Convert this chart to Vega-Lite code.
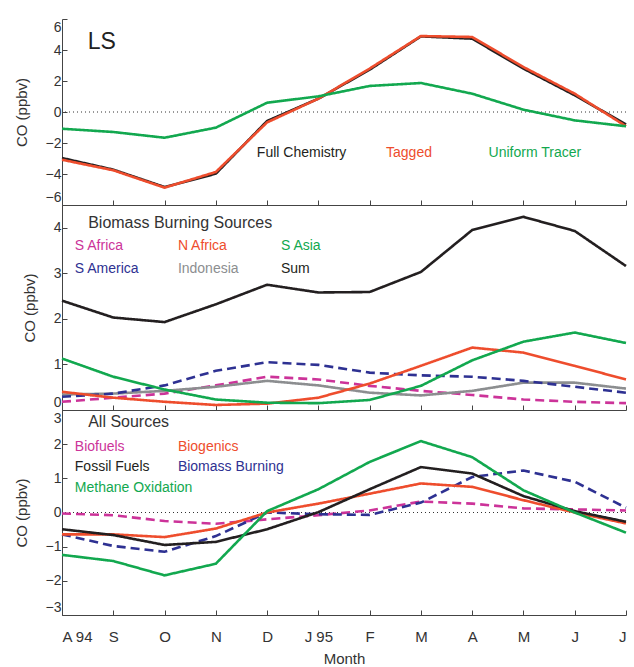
{
  "$schema": "https://vega.github.io/schema/vega-lite/v6.json",
  "padding": {"left": 14, "top": 18, "right": 0, "bottom": 0},
  "spacing": 0,
  "bounds": "flush",
  "config": {
    "font": "Liberation Sans",
    "view": {"stroke": null},
    "axis": {"grid": false, "domainColor": "#444", "tickColor": "#444", "tickSize": -5, "labelColor": "#333", "labelFontSize": 14, "titleFontSize": 15, "titleFontWeight": "normal", "titleColor": "#333", "labelPadding": 6, "titlePadding": 16}
  },
  "datasets": {
    "lines": [
      {"panel":"LS","series":"Full Chemistry","month":0,"co":-2.97},{"panel":"LS","series":"Full Chemistry","month":1,"co":-3.72},{"panel":"LS","series":"Full Chemistry","month":2,"co":-4.84},{"panel":"LS","series":"Full Chemistry","month":3,"co":-3.98},{"panel":"LS","series":"Full Chemistry","month":4,"co":-0.58},{"panel":"LS","series":"Full Chemistry","month":5,"co":0.86},{"panel":"LS","series":"Full Chemistry","month":6,"co":2.73},{"panel":"LS","series":"Full Chemistry","month":7,"co":4.88},{"panel":"LS","series":"Full Chemistry","month":8,"co":4.73},{"panel":"LS","series":"Full Chemistry","month":9,"co":2.80},{"panel":"LS","series":"Full Chemistry","month":10,"co":1.08},{"panel":"LS","series":"Full Chemistry","month":11,"co":-0.80},
      {"panel":"LS","series":"Tagged","month":0,"co":-3.08},{"panel":"LS","series":"Tagged","month":1,"co":-3.76},{"panel":"LS","series":"Tagged","month":2,"co":-4.88},{"panel":"LS","series":"Tagged","month":3,"co":-3.87},{"panel":"LS","series":"Tagged","month":4,"co":-0.67},{"panel":"LS","series":"Tagged","month":5,"co":0.86},{"panel":"LS","series":"Tagged","month":6,"co":2.80},{"panel":"LS","series":"Tagged","month":7,"co":4.90},{"panel":"LS","series":"Tagged","month":8,"co":4.84},{"panel":"LS","series":"Tagged","month":9,"co":2.90},{"panel":"LS","series":"Tagged","month":10,"co":1.18},{"panel":"LS","series":"Tagged","month":11,"co":-0.92},
      {"panel":"LS","series":"Uniform Tracer","month":0,"co":-1.08},{"panel":"LS","series":"Uniform Tracer","month":1,"co":-1.29},{"panel":"LS","series":"Uniform Tracer","month":2,"co":-1.66},{"panel":"LS","series":"Uniform Tracer","month":3,"co":-1.01},{"panel":"LS","series":"Uniform Tracer","month":4,"co":0.60},{"panel":"LS","series":"Uniform Tracer","month":5,"co":1.01},{"panel":"LS","series":"Uniform Tracer","month":6,"co":1.68},{"panel":"LS","series":"Uniform Tracer","month":7,"co":1.87},{"panel":"LS","series":"Uniform Tracer","month":8,"co":1.18},{"panel":"LS","series":"Uniform Tracer","month":9,"co":0.15},{"panel":"LS","series":"Uniform Tracer","month":10,"co":-0.54},{"panel":"LS","series":"Uniform Tracer","month":11,"co":-0.92},

      {"panel":"BB","series":"S Africa","month":0,"co":0.18},{"panel":"BB","series":"S Africa","month":1,"co":0.27},{"panel":"BB","series":"S Africa","month":2,"co":0.36},{"panel":"BB","series":"S Africa","month":3,"co":0.54},{"panel":"BB","series":"S Africa","month":4,"co":0.73},{"panel":"BB","series":"S Africa","month":5,"co":0.67},{"panel":"BB","series":"S Africa","month":6,"co":0.53},{"panel":"BB","series":"S Africa","month":7,"co":0.42},{"panel":"BB","series":"S Africa","month":8,"co":0.33},{"panel":"BB","series":"S Africa","month":9,"co":0.23},{"panel":"BB","series":"S Africa","month":10,"co":0.18},{"panel":"BB","series":"S Africa","month":11,"co":0.15},
      {"panel":"BB","series":"Indonesia","month":0,"co":0.34},{"panel":"BB","series":"Indonesia","month":1,"co":0.36},{"panel":"BB","series":"Indonesia","month":2,"co":0.42},{"panel":"BB","series":"Indonesia","month":3,"co":0.51},{"panel":"BB","series":"Indonesia","month":4,"co":0.64},{"panel":"BB","series":"Indonesia","month":5,"co":0.54},{"panel":"BB","series":"Indonesia","month":6,"co":0.38},{"panel":"BB","series":"Indonesia","month":7,"co":0.32},{"panel":"BB","series":"Indonesia","month":8,"co":0.42},{"panel":"BB","series":"Indonesia","month":9,"co":0.60},{"panel":"BB","series":"Indonesia","month":10,"co":0.60},{"panel":"BB","series":"Indonesia","month":11,"co":0.47},
      {"panel":"BB","series":"S America","month":0,"co":0.29},{"panel":"BB","series":"S America","month":1,"co":0.36},{"panel":"BB","series":"S America","month":2,"co":0.54},{"panel":"BB","series":"S America","month":3,"co":0.86},{"panel":"BB","series":"S America","month":4,"co":1.05},{"panel":"BB","series":"S America","month":5,"co":0.99},{"panel":"BB","series":"S America","month":6,"co":0.82},{"panel":"BB","series":"S America","month":7,"co":0.76},{"panel":"BB","series":"S America","month":8,"co":0.73},{"panel":"BB","series":"S America","month":9,"co":0.64},{"panel":"BB","series":"S America","month":10,"co":0.51},{"panel":"BB","series":"S America","month":11,"co":0.38},
      {"panel":"BB","series":"N Africa","month":0,"co":0.40},{"panel":"BB","series":"N Africa","month":1,"co":0.27},{"panel":"BB","series":"N Africa","month":2,"co":0.18},{"panel":"BB","series":"N Africa","month":3,"co":0.11},{"panel":"BB","series":"N Africa","month":4,"co":0.14},{"panel":"BB","series":"N Africa","month":5,"co":0.27},{"panel":"BB","series":"N Africa","month":6,"co":0.58},{"panel":"BB","series":"N Africa","month":7,"co":0.97},{"panel":"BB","series":"N Africa","month":8,"co":1.37},{"panel":"BB","series":"N Africa","month":9,"co":1.26},{"panel":"BB","series":"N Africa","month":10,"co":0.97},{"panel":"BB","series":"N Africa","month":11,"co":0.67},
      {"panel":"BB","series":"S Asia","month":0,"co":1.13},{"panel":"BB","series":"S Asia","month":1,"co":0.73},{"panel":"BB","series":"S Asia","month":2,"co":0.45},{"panel":"BB","series":"S Asia","month":3,"co":0.23},{"panel":"BB","series":"S Asia","month":4,"co":0.16},{"panel":"BB","series":"S Asia","month":5,"co":0.15},{"panel":"BB","series":"S Asia","month":6,"co":0.22},{"panel":"BB","series":"S Asia","month":7,"co":0.53},{"panel":"BB","series":"S Asia","month":8,"co":1.09},{"panel":"BB","series":"S Asia","month":9,"co":1.50},{"panel":"BB","series":"S Asia","month":10,"co":1.70},{"panel":"BB","series":"S Asia","month":11,"co":1.47},
      {"panel":"BB","series":"Sum","month":0,"co":2.40},{"panel":"BB","series":"Sum","month":1,"co":2.03},{"panel":"BB","series":"Sum","month":2,"co":1.93},{"panel":"BB","series":"Sum","month":3,"co":2.32},{"panel":"BB","series":"Sum","month":4,"co":2.75},{"panel":"BB","series":"Sum","month":5,"co":2.58},{"panel":"BB","series":"Sum","month":6,"co":2.59},{"panel":"BB","series":"Sum","month":7,"co":3.03},{"panel":"BB","series":"Sum","month":8,"co":3.95},{"panel":"BB","series":"Sum","month":9,"co":4.24},{"panel":"BB","series":"Sum","month":10,"co":3.93},{"panel":"BB","series":"Sum","month":11,"co":3.16},

      {"panel":"ALL","series":"Biofuels","month":0,"co":-0.03},{"panel":"ALL","series":"Biofuels","month":1,"co":-0.08},{"panel":"ALL","series":"Biofuels","month":2,"co":-0.25},{"panel":"ALL","series":"Biofuels","month":3,"co":-0.33},{"panel":"ALL","series":"Biofuels","month":4,"co":-0.20},{"panel":"ALL","series":"Biofuels","month":5,"co":-0.08},{"panel":"ALL","series":"Biofuels","month":6,"co":0.06},{"panel":"ALL","series":"Biofuels","month":7,"co":0.32},{"panel":"ALL","series":"Biofuels","month":8,"co":0.26},{"panel":"ALL","series":"Biofuels","month":9,"co":0.12},{"panel":"ALL","series":"Biofuels","month":10,"co":0.09},{"panel":"ALL","series":"Biofuels","month":11,"co":0.06},
      {"panel":"ALL","series":"Biomass Burning","month":0,"co":-0.64},{"panel":"ALL","series":"Biomass Burning","month":1,"co":-0.98},{"panel":"ALL","series":"Biomass Burning","month":2,"co":-1.15},{"panel":"ALL","series":"Biomass Burning","month":3,"co":-0.69},{"panel":"ALL","series":"Biomass Burning","month":4,"co":0.0},{"panel":"ALL","series":"Biomass Burning","month":5,"co":-0.05},{"panel":"ALL","series":"Biomass Burning","month":6,"co":-0.07},{"panel":"ALL","series":"Biomass Burning","month":7,"co":0.29},{"panel":"ALL","series":"Biomass Burning","month":8,"co":1.04},{"panel":"ALL","series":"Biomass Burning","month":9,"co":1.23},{"panel":"ALL","series":"Biomass Burning","month":10,"co":0.90},{"panel":"ALL","series":"Biomass Burning","month":11,"co":0.14},
      {"panel":"ALL","series":"Biogenics","month":0,"co":-0.64},{"panel":"ALL","series":"Biogenics","month":1,"co":-0.64},{"panel":"ALL","series":"Biogenics","month":2,"co":-0.72},{"panel":"ALL","series":"Biogenics","month":3,"co":-0.47},{"panel":"ALL","series":"Biogenics","month":4,"co":0.0},{"panel":"ALL","series":"Biogenics","month":5,"co":0.26},{"panel":"ALL","series":"Biogenics","month":6,"co":0.55},{"panel":"ALL","series":"Biogenics","month":7,"co":0.85},{"panel":"ALL","series":"Biogenics","month":8,"co":0.75},{"panel":"ALL","series":"Biogenics","month":9,"co":0.36},{"panel":"ALL","series":"Biogenics","month":10,"co":0.0},{"panel":"ALL","series":"Biogenics","month":11,"co":-0.32},
      {"panel":"ALL","series":"Fossil Fuels","month":0,"co":-0.49},{"panel":"ALL","series":"Fossil Fuels","month":1,"co":-0.66},{"panel":"ALL","series":"Fossil Fuels","month":2,"co":-0.95},{"panel":"ALL","series":"Fossil Fuels","month":3,"co":-0.86},{"panel":"ALL","series":"Fossil Fuels","month":4,"co":-0.49},{"panel":"ALL","series":"Fossil Fuels","month":5,"co":0.01},{"panel":"ALL","series":"Fossil Fuels","month":6,"co":0.68},{"panel":"ALL","series":"Fossil Fuels","month":7,"co":1.33},{"panel":"ALL","series":"Fossil Fuels","month":8,"co":1.14},{"panel":"ALL","series":"Fossil Fuels","month":9,"co":0.48},{"panel":"ALL","series":"Fossil Fuels","month":10,"co":0.04},{"panel":"ALL","series":"Fossil Fuels","month":11,"co":-0.27},
      {"panel":"ALL","series":"Methane Oxidation","month":0,"co":-1.24},{"panel":"ALL","series":"Methane Oxidation","month":1,"co":-1.42},{"panel":"ALL","series":"Methane Oxidation","month":2,"co":-1.84},{"panel":"ALL","series":"Methane Oxidation","month":3,"co":-1.50},{"panel":"ALL","series":"Methane Oxidation","month":4,"co":0.04},{"panel":"ALL","series":"Methane Oxidation","month":5,"co":0.68},{"panel":"ALL","series":"Methane Oxidation","month":6,"co":1.48},{"panel":"ALL","series":"Methane Oxidation","month":7,"co":2.09},{"panel":"ALL","series":"Methane Oxidation","month":8,"co":1.62},{"panel":"ALL","series":"Methane Oxidation","month":9,"co":0.65},{"panel":"ALL","series":"Methane Oxidation","month":10,"co":0.0},{"panel":"ALL","series":"Methane Oxidation","month":11,"co":-0.59}
    ],
    "labels": [
      {"panel":"LS","series":"Full Chemistry","label":"Full Chemistry","month":3.8,"co":-2.66},
      {"panel":"LS","series":"Tagged","label":"Tagged","month":6.32,"co":-2.66},
      {"panel":"LS","series":"Uniform Tracer","label":"Uniform Tracer","month":8.32,"co":-2.66},
      {"panel":"BB","series":"S Africa","label":"S Africa","month":0.25,"co":3.6},
      {"panel":"BB","series":"N Africa","label":"N Africa","month":2.26,"co":3.6},
      {"panel":"BB","series":"S Asia","label":"S Asia","month":4.27,"co":3.6},
      {"panel":"BB","series":"S America","label":"S America","month":0.25,"co":3.1},
      {"panel":"BB","series":"Indonesia","label":"Indonesia","month":2.26,"co":3.1},
      {"panel":"BB","series":"Sum","label":"Sum","month":4.27,"co":3.1},
      {"panel":"ALL","series":"Biofuels","label":"Biofuels","month":0.25,"co":1.92},
      {"panel":"ALL","series":"Biogenics","label":"Biogenics","month":2.26,"co":1.92},
      {"panel":"ALL","series":"Fossil Fuels","label":"Fossil Fuels","month":0.25,"co":1.33},
      {"panel":"ALL","series":"Biomass Burning","label":"Biomass Burning","month":2.26,"co":1.33},
      {"panel":"ALL","series":"Methane Oxidation","label":"Methane Oxidation","month":0.25,"co":0.72}
    ],
    "titles": [
      {"panel":"LS","label":"LS","month":0.5,"co":4.5},
      {"panel":"BB","label":"Biomass Burning Sources","month":0.51,"co":4.11},
      {"panel":"ALL","label":"All Sources","month":0.51,"co":2.65}
    ],
    "zero": [{"co":0}]
  },
  "vconcat": [
    {
      "width": 564, "height": 186,
      "encoding": {
        "x": {"field":"month","type":"quantitative","scale":{"domain":[0,11],"nice":false,"zero":false},"axis":{"values":[0,1,2,3,4,5,6,7,8,9,10,11],"labels":false,"title":null}},
        "y": {"field":"co","type":"quantitative","scale":{"domain":[-6,6],"nice":false},"axis":{"values":[-6,-4,-2,0,2,4,6],"title":"CO (ppbv)","labelFlush":true,"labelFlushOffset":-1}}
      },
      "layer": [
        {"data":{"name":"zero"},"mark":{"type":"rule","color":"#333","strokeDash":[1,3],"strokeWidth":1},"encoding":{"x":null}},
        {"data":{"name":"lines"},"transform":[{"filter":"datum.panel === 'LS'"}],"mark":{"type":"line","strokeWidth":2.6},
         "encoding":{"color":{"field":"series","type":"nominal","legend":null,"scale":{"domain":["Full Chemistry","Tagged","Uniform Tracer","S Africa","N Africa","S Asia","S America","Indonesia","Sum","Biofuels","Biogenics","Fossil Fuels","Biomass Burning","Methane Oxidation"],"range":["#231f20","#ee4d2d","#12a84f","#cc3399","#ee4d2d","#12a84f","#2e3192","#8c8e90","#231f20","#cc3399","#ee4d2d","#231f20","#2e3192","#12a84f"]}},
          "strokeDash":{"field":"series","type":"nominal","legend":null,"scale":{"domain":["Full Chemistry","Tagged","Uniform Tracer","S Africa","N Africa","S Asia","S America","Indonesia","Sum","Biofuels","Biogenics","Fossil Fuels","Biomass Burning","Methane Oxidation"],"range":[[1,0],[1,0],[1,0],[9,5],[1,0],[1,0],[9,5],[1,0],[1,0],[9,5],[1,0],[1,0],[9,5],[1,0]]}}}},
        {"data":{"name":"labels"},"transform":[{"filter":"datum.panel === 'LS'"}],"mark":{"type":"text","align":"left","baseline":"middle","fontSize":14},
         "encoding":{"text":{"field":"label"},"color":{"field":"series","type":"nominal","legend":null}}},
        {"data":{"name":"titles"},"transform":[{"filter":"datum.panel === 'LS'"}],"mark":{"type":"text","align":"left","baseline":"middle","fontSize":23,"color":"#222"},
         "encoding":{"text":{"field":"label"}}}
      ]
    },
    {
      "width": 564, "height": 205,
      "encoding": {
        "x": {"field":"month","type":"quantitative","scale":{"domain":[0,11],"nice":false,"zero":false},"axis":{"values":[0,1,2,3,4,5,6,7,8,9,10,11],"labels":false,"title":null}},
        "y": {"field":"co","type":"quantitative","scale":{"domain":[0,4.5],"nice":false},"axis":{"values":[0,1,2,3,4],"title":"CO (ppbv)","labelFlush":true,"labelFlushOffset":-1}}
      },
      "layer": [
        {"data":{"name":"lines"},"transform":[{"filter":"datum.panel === 'BB'"}],"mark":{"type":"line","strokeWidth":2.6},
         "encoding":{"color":{"field":"series","type":"nominal","legend":null},
          "strokeDash":{"field":"series","type":"nominal","legend":null}}},
        {"data":{"name":"labels"},"transform":[{"filter":"datum.panel === 'BB'"}],"mark":{"type":"text","align":"left","baseline":"middle","fontSize":14},
         "encoding":{"text":{"field":"label"},"color":{"field":"series","type":"nominal","legend":null}}},
        {"data":{"name":"titles"},"transform":[{"filter":"datum.panel === 'BB'"}],"mark":{"type":"text","align":"left","baseline":"middle","fontSize":16,"color":"#333"},
         "encoding":{"text":{"field":"label"}}}
      ]
    },
    {
      "width": 564, "height": 205,
      "encoding": {
        "x": {"field":"month","type":"quantitative","scale":{"domain":[0,11],"nice":false,"zero":false},"axis":{"values":[0,1,2,3,4,5,6,7,8,9,10,11],"title":"Month","titlePadding":7,"labelFontSize":15,"labelPadding":19,"labelExpr":"['A 94','S','O','N','D','J 95','F','M','A','M','J','J'][datum.value]"}},
        "y": {"field":"co","type":"quantitative","scale":{"domain":[-3,3],"nice":false},"axis":{"values":[-3,-2,-1,0,1,2,3],"title":"CO (ppbv)","labelFlush":true,"labelFlushOffset":-1}}
      },
      "layer": [
        {"data":{"name":"zero"},"mark":{"type":"rule","color":"#333","strokeDash":[1,3],"strokeWidth":1},"encoding":{"x":null}},
        {"data":{"name":"lines"},"transform":[{"filter":"datum.panel === 'ALL'"}],"mark":{"type":"line","strokeWidth":2.6},
         "encoding":{"color":{"field":"series","type":"nominal","legend":null},
          "strokeDash":{"field":"series","type":"nominal","legend":null}}},
        {"data":{"name":"labels"},"transform":[{"filter":"datum.panel === 'ALL'"}],"mark":{"type":"text","align":"left","baseline":"middle","fontSize":14},
         "encoding":{"text":{"field":"label"},"color":{"field":"series","type":"nominal","legend":null}}},
        {"data":{"name":"titles"},"transform":[{"filter":"datum.panel === 'ALL'"}],"mark":{"type":"text","align":"left","baseline":"middle","fontSize":16,"color":"#333"},
         "encoding":{"text":{"field":"label"}}}
      ]
    }
  ]
}
